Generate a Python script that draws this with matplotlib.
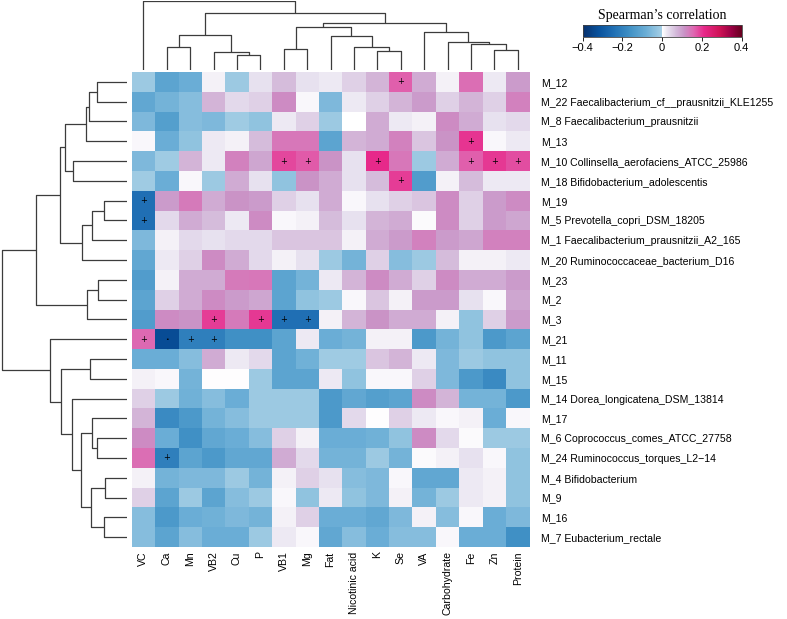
import numpy as np
import matplotlib
matplotlib.use("Agg")
import matplotlib.pyplot as plt
from matplotlib.colors import LinearSegmentedColormap, ListedColormap, Normalize

# ---------------- data ----------------
row_labels = [
    "M_12", "M_22 Faecalibacterium_cf__prausnitzii_KLE1255", "M_8 Faecalibacterium_prausnitzii",
    "M_13", "M_10 Collinsella_aerofaciens_ATCC_25986", "M_18 Bifidobacterium_adolescentis",
    "M_19", "M_5 Prevotella_copri_DSM_18205", "M_1 Faecalibacterium_prausnitzii_A2_165",
    "M_20 Ruminococcaceae_bacterium_D16", "M_23", "M_2", "M_3", "M_21", "M_11", "M_15",
    "M_14 Dorea_longicatena_DSM_13814", "M_17", "M_6 Coprococcus_comes_ATCC_27758",
    "M_24 Ruminococcus_torques_L2\u221214", "M_4 Bifidobacterium", "M_9", "M_16",
    "M_7 Eubacterium_rectale",
]
col_labels = ["VC", "Ca", "Mn", "VB2", "Cu", "P", "VB1", "Mg", "Fat", "Nicotinic acid",
              "K", "Se", "VA", "Carbohydrate", "Fe", "Zn", "Protein"]

values = np.array([
    [-0.015, -0.11, -0.082, 0.015, -0.015, 0.03, 0.068, 0.03, 0.022, 0.048, 0.076, 0.165, 0.085, 0.015, 0.15, 0.022, 0.102],
    [-0.1, -0.068, -0.045, 0.076, 0.038, 0.048, 0.12, 0.008, -0.055, 0.022, 0.048, 0.076, 0.102, 0.048, 0.076, 0.048, 0.13],
    [-0.055, -0.125, -0.045, -0.055, -0.01, -0.03, 0.022, 0.048, -0.015, 0.0, 0.085, 0.022, 0.015, 0.12, 0.085, 0.03, 0.038],
    [0.008, -0.082, -0.03, 0.022, 0.015, 0.068, 0.142, 0.142, -0.11, 0.076, 0.085, 0.13, 0.058, 0.112, 0.2, 0.008, 0.022],
    [-0.055, -0.01, 0.076, 0.022, 0.13, 0.092, 0.185, 0.17, 0.112, 0.03, 0.21, 0.142, -0.015, 0.085, 0.165, 0.198, 0.18],
    [-0.01, -0.082, 0.008, -0.015, 0.085, 0.03, -0.03, 0.112, 0.085, 0.03, 0.068, 0.195, -0.13, 0.015, 0.068, 0.022, 0.022],
    [-0.245, 0.102, 0.138, 0.085, 0.112, 0.102, 0.048, 0.03, 0.085, 0.008, 0.03, 0.048, 0.058, 0.12, 0.048, 0.102, 0.12],
    [-0.245, 0.038, 0.085, 0.068, 0.022, 0.12, 0.008, 0.015, 0.068, 0.03, 0.076, 0.085, 0.005, 0.12, 0.048, 0.102, 0.092],
    [-0.055, 0.015, 0.038, 0.03, 0.038, 0.038, 0.058, 0.058, 0.058, 0.015, 0.085, 0.102, 0.13, 0.102, 0.092, 0.13, 0.13],
    [-0.1, 0.022, 0.048, 0.12, 0.085, 0.038, 0.015, 0.03, -0.015, -0.068, 0.048, -0.045, -0.015, 0.068, 0.015, 0.015, 0.022],
    [-0.13, 0.015, 0.085, 0.085, 0.138, 0.142, -0.11, -0.068, 0.022, 0.076, 0.12, 0.085, 0.048, 0.12, 0.085, 0.085, 0.102],
    [-0.11, 0.048, 0.085, 0.12, 0.102, 0.092, -0.11, -0.03, -0.015, 0.008, 0.058, 0.015, 0.102, 0.102, 0.03, 0.008, 0.092],
    [-0.13, 0.12, 0.112, 0.195, 0.138, 0.198, -0.245, -0.245, 0.015, 0.076, 0.112, 0.085, 0.085, 0.015, -0.03, 0.048, 0.102],
    [0.155, -0.33, -0.205, -0.205, -0.165, -0.165, -0.11, 0.022, -0.082, -0.068, 0.015, 0.015, -0.14, -0.068, -0.03, -0.14, -0.11],
    [-0.082, -0.082, -0.045, 0.085, 0.022, 0.038, -0.11, -0.075, -0.01, -0.01, 0.058, 0.076, 0.022, -0.055, -0.015, -0.03, -0.03],
    [0.015, 0.008, -0.068, 0.003, 0.003, -0.015, -0.11, -0.11, 0.022, -0.03, 0.008, 0.008, 0.048, -0.055, -0.14, -0.18, -0.03],
    [0.048, -0.015, -0.075, -0.045, -0.082, -0.015, -0.015, -0.015, -0.14, -0.1, -0.125, -0.11, 0.12, 0.076, -0.068, -0.068, -0.14],
    [0.076, -0.18, -0.14, -0.068, -0.045, -0.015, -0.015, -0.015, -0.14, 0.038, 0.003, 0.048, 0.022, 0.008, 0.015, -0.082, 0.008],
    [0.12, -0.082, -0.165, -0.1, -0.082, -0.045, 0.048, 0.015, -0.082, -0.082, -0.075, -0.03, 0.12, 0.038, 0.005, -0.015, -0.015],
    [0.15, -0.205, -0.11, -0.14, -0.1, -0.1, 0.085, 0.038, -0.068, -0.068, -0.015, -0.068, 0.005, 0.015, 0.03, 0.008, -0.03],
    [0.015, -0.068, -0.055, -0.055, -0.015, -0.068, 0.015, 0.048, 0.03, -0.045, -0.055, 0.008, -0.1, -0.1, 0.022, 0.015, -0.03],
    [0.048, -0.11, -0.015, -0.11, -0.045, -0.015, 0.008, -0.03, 0.022, -0.03, -0.055, 0.015, -0.068, -0.015, 0.022, 0.015, -0.03],
    [-0.045, -0.14, -0.082, -0.075, -0.055, -0.068, 0.015, 0.048, -0.082, -0.082, -0.1, -0.055, 0.015, -0.045, 0.008, -0.082, -0.055],
    [-0.045, -0.11, -0.045, -0.082, -0.082, -0.015, 0.022, 0.008, -0.1, -0.045, -0.082, -0.045, -0.045, 0.008, -0.082, -0.082, -0.165],
])

# significance marks: (row id, column label, symbol)
sig_rows = ["M_12", "M_13", "M_10", "M_10", "M_10", "M_10", "M_10", "M_10", "M_18", "M_19", "M_5",
            "M_3", "M_3", "M_3", "M_3", "M_21", "M_21", "M_21", "M_21", "M_24"]
sig_cols = ["Se", "Fe", "VB1", "Mg", "K", "Fe", "Zn", "Protein", "Se", "VC", "VC",
            "VB2", "P", "VB1", "Mg", "VC", "Ca", "Mn", "VB2", "Ca"]
sig_syms = ["+", "+", "+", "+", "+", "+", "+", "+", "+", "+", "+",
            "+", "+", "+", "+", "+", "\u2022", "+", "+", "+"]

# dendrogram linkages (child a, child b, merge height); leaves are in display order
col_merges = [
    (4, 5, 44), (10, 11, 58), (15, 16, 59), (1, 2, 68), (9, 18, 68), (6, 7, 64),
    (3, 17, 53), (14, 19, 77), (13, 24, 83), (8, 21, 102), (20, 23, 106), (12, 25, 115),
    (22, 26, 131), (29, 28, 142), (27, 30, 173), (0, 31, 207),
]
row_merges = [
    (0, 1, 90), (24, 2, 113), (25, 3, 123), (4, 5, 161), (26, 27, 184), (6, 7, 70),
    (29, 8, 105), (30, 9, 135), (28, 31, 201), (10, 11, 86), (33, 12, 121), (32, 34, 273),
    (14, 15, 110), (18, 19, 89), (17, 37, 104), (20, 21, 65), (22, 23, 69), (39, 40, 108),
    (38, 41, 139), (16, 42, 165), (36, 43, 197), (13, 44, 229), (35, 45, 375),
]

# ---------------- colormap ----------------
blue_half = LinearSegmentedColormap.from_list(
    "b", ["#08306b", "#08519c", "#2171b5", "#4292c6", "#6baed6", "#a6cfe5"])
pink_half = LinearSegmentedColormap.from_list(
    "p", [(0, "#ffffff"), (0.075, "#e7e1ef"), (0.175, "#d4b9da"), (0.275, "#c994c7"),
          (0.4, "#df65b0"), (0.525, "#e7298a"), (0.725, "#ce1256"), (0.875, "#980043"),
          (1.0, "#67001f")])
cmap = ListedColormap(np.vstack([blue_half(np.linspace(0, 1, 256)),
                                 pink_half(np.linspace(0, 1, 256))]))
norm = Normalize(vmin=-0.4, vmax=0.4)

# ---------------- figure ----------------
W, H = 787, 619
fig = plt.figure(figsize=(W / 100, H / 100), dpi=100)


def fr(x0, y0, x1, y1):
    return [x0 / W, 1 - y1 / H, (x1 - x0) / W, (y1 - y0) / H]


hm_l, hm_r, hm_t, hm_b = 131.7, 529.5, 72, 547
ax = fig.add_axes(fr(hm_l, hm_t, hm_r, hm_b))
nr, nc = values.shape
ax.pcolormesh(np.arange(nc + 1), np.arange(nr + 1), values, cmap=cmap, norm=norm,
              edgecolors="none", antialiased=False)
ax.set_xlim(0, nc)
ax.set_ylim(nr, 0)
for s in ax.spines.values():
    s.set_visible(False)
row_ids = [lab.split(" ")[0] for lab in row_labels]
for r, c, s in zip(sig_rows, sig_cols, sig_syms):
    i = row_ids.index(r)
    j = col_labels.index(c)
    ax.text(j + 0.5, i + 0.5, s, ha="center", va="center",
            fontsize=6 if s == "+" else 4.5, color="black")

lab_font = dict(family=["Liberation Sans", "DejaVu Sans"], size=7.6)
ax.yaxis.tick_right()
ax.set_yticks(np.arange(nr) + 0.5)
ax.set_yticklabels(row_labels, **lab_font)
ax.set_xticks(np.arange(nc) + 0.5)
ax.set_xticklabels(col_labels, rotation=90, **lab_font)
ax.tick_params(axis="y", length=0, pad=8.2)
ax.tick_params(axis="x", length=0, pad=3.2)


def dendro(merges, n):
    pos = {i: i + 0.5 for i in range(n)}
    hgt = {i: 0.0 for i in range(n)}
    segs = []
    for k, (a, b, h) in enumerate(merges):
        segs.append(([pos[a], pos[a], pos[b], pos[b]], [hgt[a], h, h, hgt[b]]))
        pos[n + k] = (pos[a] + pos[b]) / 2
        hgt[n + k] = h
    return segs


lc = "#3c3c3c"
axc = fig.add_axes(fr(hm_l, 1, hm_r, 70))
for xs, ys in dendro(col_merges, nc):
    axc.plot(xs, ys, color=lc, lw=0.9, solid_capstyle="butt")
axc.set_xlim(0, nc)
axc.set_ylim(0, 208)
axc.axis("off")

axr = fig.add_axes(fr(1.3, hm_t, 127, hm_b))
for xs, ys in dendro(row_merges, nr):
    axr.plot(ys, xs, color=lc, lw=0.9, solid_capstyle="butt")
axr.set_ylim(nr, 0)
axr.set_xlim(376, 0)
axr.axis("off")

# colorbar
cax = fig.add_axes(fr(582.5, 24.5, 741.7, 37))
cb = fig.colorbar(plt.cm.ScalarMappable(norm=norm, cmap=cmap), cax=cax,
                  orientation="horizontal")
cb.set_ticks([-0.4, -0.2, 0, 0.2, 0.4])
cb.set_ticklabels(["\u22120.4", "\u22120.2", "0", "0.2", "0.4"],
                  family=["Liberation Sans", "DejaVu Sans"], size=8)
cb.ax.tick_params(length=3, width=0.6, pad=1.5)
cb.outline.set_linewidth(0.6)
cb.outline.set_edgecolor("#444444")
fig.text((582.5 + 741.7) / 2 / W, 1 - 15 / H, "Spearman\u2019s correlation",
         ha="center", va="center", family=["Liberation Serif", "DejaVu Serif"], size=10)

fig.savefig("out.png", dpi=100)
